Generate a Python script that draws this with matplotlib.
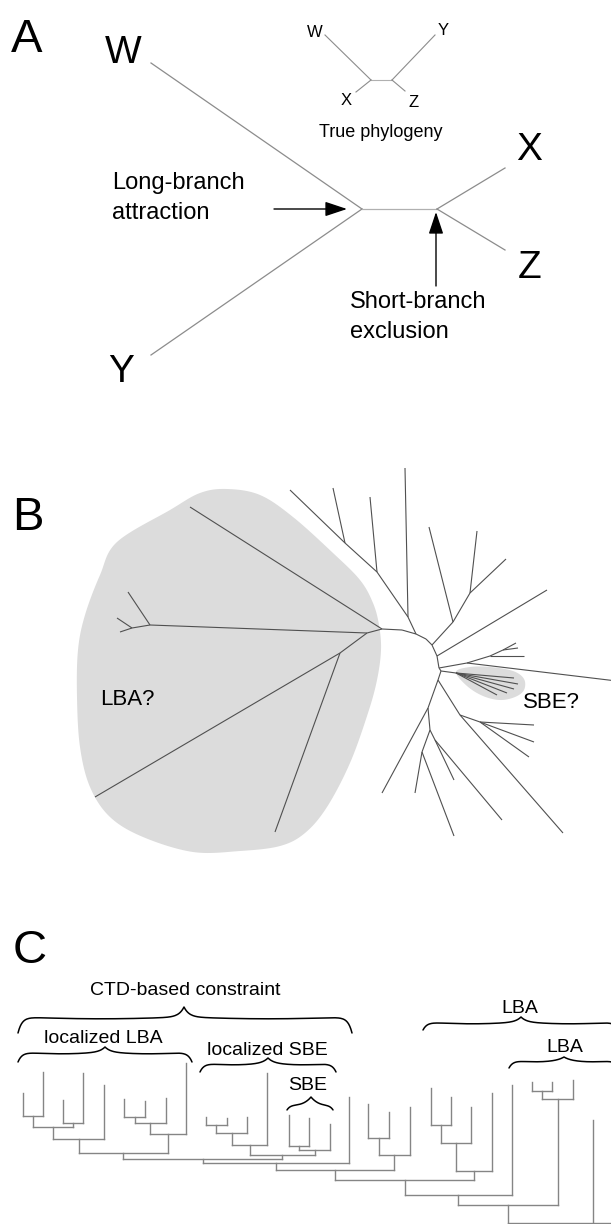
import numpy as np
import matplotlib.pyplot as plt
from matplotlib.collections import LineCollection
from matplotlib.patches import Polygon

plt.rcParams['font.family'] = ['Liberation Sans', 'DejaVu Sans']

# ---------------- panel A: four-taxon tree ----------------
a_nodes = {'W': (151, 63), 'Y': (151, 355), 'u': (362, 209), 'v': (437, 209),
           'X': (505, 168), 'Z': (505, 250)}
a_edges = [('W', 'u'), ('Y', 'u'), ('u', 'v'), ('v', 'X'), ('v', 'Z')]
a_labels = {'W': (123, 63), 'Y': (121, 382), 'X': (529, 160), 'Z': (530, 278)}

# small inset with the true topology
t_nodes = {'W': (325, 35), 'Y': (435, 35), 'p': (371, 80), 'q': (392, 80),
           'X': (356, 92), 'Z': (405, 91)}
t_edges = [('W', 'p'), ('p', 'q'), ('q', 'Y'), ('p', 'X'), ('q', 'Z')]
t_labels = {'W': (315, 37), 'Y': (443, 35), 'X': (346, 105), 'Z': (414, 107)}

# ---------------- panel B: unrooted tree ----------------
b_edges = [
    # long-branch cluster
    ((382, 629), (190, 507)), ((382, 629), (367, 633)),
    ((367, 633), (150, 625)), ((150, 625), (128, 592)), ((150, 625), (132, 628)),
    ((132, 628), (117, 618)), ((132, 628), (120, 632)),
    ((367, 633), (340, 653)), ((340, 653), (95, 797)), ((340, 653), (275, 832)),
    # backbone
    ((382, 629), (402, 630)), ((402, 630), (416, 634)), ((416, 634), (426, 639)),
    ((426, 639), (432, 645)), ((432, 645), (437, 656)),
    ((437, 656), (439, 668)), ((439, 668), (441, 671)), ((441, 671), (438, 680)),
    # upper clade
    ((416, 634), (408, 617)), ((408, 617), (405, 468)), ((408, 617), (377, 572)),
    ((377, 572), (370, 497)), ((377, 572), (345, 543)),
    ((345, 543), (290, 490)), ((345, 543), (333, 488)),
    # upper right clade
    ((432, 645), (453, 622)), ((453, 622), (429, 527)), ((453, 622), (470, 593)),
    ((470, 593), (477, 531)), ((470, 593), (506, 559)),
    ((437, 656), (547, 590)),
    # right clade
    ((439, 668), (467, 663)), ((467, 663), (625, 682)), ((467, 663), (490, 656)),
    ((490, 656), (503, 650)), ((503, 650), (516, 643)), ((503, 650), (518, 648)),
    ((490, 656), (524, 656)),
    # short-branch cluster
    ((441, 671), (456, 673)), ((456, 673), (514, 678)), ((456, 673), (518, 684)),
    ((456, 673), (514, 689)), ((456, 673), (507, 693)), ((456, 673), (497, 695)),
    # lower clades
    ((438, 680), (428, 708)), ((428, 708), (382, 793)), ((428, 708), (430, 730)),
    ((430, 730), (422, 752)), ((422, 752), (415, 793)), ((422, 752), (454, 836)),
    ((430, 730), (435, 740)), ((435, 740), (454, 780)), ((435, 740), (502, 820)),
    ((438, 680), (460, 715)), ((460, 715), (563, 833)), ((460, 715), (480, 722)),
    ((480, 722), (534, 725)), ((480, 722), (534, 742)), ((480, 722), (529, 757)),
]
lba_region = [(117, 542), (170, 510), (200, 493), (227, 489), (260, 495), (293, 517),
              (333, 553), (360, 580), (373, 603), (379, 625), (381, 650), (377, 680),
              (368, 713), (350, 763), (327, 807), (305, 833), (280, 846), (240, 851),
              (193, 852), (143, 837), (110, 817), (90, 787), (80, 747), (77, 697),
              (78, 650), (85, 615), (100, 575)]
sbe_region = [(456, 672), (470, 667), (490, 667), (513, 671), (524, 679), (524, 690),
              (515, 697), (500, 700), (483, 696), (467, 686)]

# ---------------- panel C: rooted cladogram ----------------
# leaf = (x, top), clade = (join_y, [children])
localized_lba = (1153, [
    (1139, [(1127, [(1116, [(23.3, 1093), (43.3, 1072)]),
                    (1123, [(63.3, 1100), (83.3, 1073)])]),
            (104.3, 1085)]),
    (1134, [(1123, [(1117, [(124.3, 1099), (145.0, 1101)]), (165.7, 1098)]),
            (186.0, 1063)]),
])
localized_sbe = (1155, [
    (1145, [(1133, [(1125, [(205.7, 1117), (226.7, 1118)]), (247.3, 1117)]),
            (267.3, 1073)]),
    (1150, [(1146, [(289.0, 1115), (309.0, 1118)]), (330.0, 1124)]),
])
clade_3 = (1155, [(1138, [(368.3, 1104), (389.0, 1112)]), (410.0, 1107)])
clade_4 = (1171, [(1143, [(1125, [(431.0, 1088), (451.0, 1097)]), (471.0, 1107)]),
                  (491.7, 1093)])
clade_lba = (1099, [(1091, [(532.3, 1082), (552.3, 1082)]), (573.3, 1080)])
c_tree = (1223, [
    (1205, [
        (1195, [
            (1180, [
                (1170, [(1163, [(1159, [localized_lba, localized_sbe]), (349.3, 1097)]),
                        clade_3]),
                clade_4]),
            (512.3, 1085)]),
        clade_lba]),
    (593.3, 1120),
    (680.0, 1100),
])

# braces: text, text x, text baseline, brace x0, x1, tip x, tip y, mid y, end y
c_braces = [
    ('CTD-based constraint', 185, 995, 18, 352, 184, 1007, 1017, 1033),
    ('localized LBA', 103, 1043, 18, 192, 105, 1047, 1052, 1062),
    ('localized SBE', 267, 1055, 200, 336, 268, 1058, 1063, 1072),
    ('SBE', 308, 1090, 287, 333, 311, 1097, 1103, 1110),
    ('LBA', 520, 1013, 423, 619, 521, 1017, 1022, 1030),
    ('LBA', 565, 1052, 509, 619, 564, 1057, 1060, 1068),
]


def smooth_closed(pts, n=20):
    pts = np.asarray(pts, float)
    m = len(pts)
    t = np.linspace(0, 1, n, endpoint=False)[:, None]
    out = []
    for i in range(m):
        p0, p1, p2, p3 = pts[i - 1], pts[i], pts[(i + 1) % m], pts[(i + 2) % m]
        out.append(0.5 * (2 * p1 + (-p0 + p2) * t + (2 * p0 - 5 * p1 + 4 * p2 - p3) * t ** 2
                          + (-p0 + 3 * p1 - 3 * p2 + p3) * t ** 3))
    return np.vstack(out)


def half_brace(x, x_end, x_tip, y_tip, y_mid, y_end):
    d_end = np.abs(x - x_end)
    d_tip = np.abs(x_tip - x)
    span = abs(x_tip - x_end)
    sag = 1.8 * np.sin(np.pi * d_end / span)
    return (y_mid + sag + (y_end - y_mid) * np.exp(-d_end / 4)
            + (y_tip - y_mid - sag) * np.exp(-d_tip / 5))


def brace(ax, x0, x1, xt, y_tip, y_mid, y_end):
    xl = np.linspace(x0, xt, 150)
    xr = np.linspace(xt, x1, 150)
    yl = half_brace(xl, x0, xt, y_tip, y_mid, y_end)
    yr = half_brace(xr, x1, xt, y_tip, y_mid, y_end)
    ax.plot(np.r_[xl, xr], np.r_[yl, yr], color='black', lw=1.1, solid_capstyle='round')


def draw_clade(ax, node):
    if not isinstance(node[1], list):
        return node
    y, kids = node
    xs = []
    for k in kids:
        kx, ky = draw_clade(ax, k)
        ax.plot([kx, kx], [ky, y], color='#858585', lw=1.0)
        xs.append(kx)
    ax.plot([min(xs), max(xs)], [y, y], color='#858585', lw=1.0)
    return ((xs[0] + xs[1]) / 2, y)


fig = plt.figure(figsize=(6.11, 12.24), dpi=100)
ax = fig.add_axes([0, 0, 1, 1])
ax.set_xlim(0, 611)
ax.set_ylim(1224, 0)
ax.axis('off')

# panel A
for a, b in a_edges:
    col = '#b0b0b0' if (a, b) == ('u', 'v') else '#8c8c8c'
    ax.plot(*zip(a_nodes[a], a_nodes[b]), color=col, lw=0.9)
for k, (x, y) in a_labels.items():
    ax.text(x, y, k, fontsize=28, ha='center', va='baseline')
for a, b in t_edges:
    col = '#b0b0b0' if (a, b) == ('p', 'q') else '#8c8c8c'
    ax.plot(*zip(t_nodes[a], t_nodes[b]), color=col, lw=0.8)
for k, (x, y) in t_labels.items():
    ax.text(x, y, k, fontsize=12, ha='center', va='baseline')
ax.text(381, 137, 'True phylogeny', fontsize=13, ha='center', va='baseline')
ax.text(112, 189, 'Long-branch', fontsize=17, va='baseline')
ax.text(112, 219, 'attraction', fontsize=17, va='baseline')
ax.text(350, 308, 'Short-branch', fontsize=17, va='baseline')
ax.text(350, 338, 'exclusion', fontsize=17, va='baseline')
ax.annotate('', xy=(347, 209), xytext=(274, 209),
            arrowprops=dict(arrowstyle='-|>,head_length=0.9,head_width=0.3',
                            mutation_scale=15, color='black', lw=1.0,
                            shrinkA=0, shrinkB=0))
ax.annotate('', xy=(436, 212), xytext=(436, 286),
            arrowprops=dict(arrowstyle='-|>,head_length=0.9,head_width=0.3',
                            mutation_scale=15, color='black', lw=1.0,
                            shrinkA=0, shrinkB=0))

# panel B
ax.add_patch(Polygon(smooth_closed(lba_region), closed=True, fc='#dcdcdc', ec='none'))
ax.add_patch(Polygon(smooth_closed(sbe_region), closed=True, fc='#dcdcdc', ec='none'))
ax.add_collection(LineCollection(b_edges, colors='#505050', linewidths=0.8))
ax.text(127, 705, 'LBA?', fontsize=16, ha='center', va='baseline')
ax.text(551, 708, 'SBE?', fontsize=16, ha='center', va='baseline')

# panel C
draw_clade(ax, c_tree)
for label, tx, ty, x0, x1, xt, yt, ym, ye in c_braces:
    brace(ax, x0, x1, xt, yt, ym, ye)
    ax.text(tx, ty, label, fontsize=14, ha='center', va='baseline')

# panel letters
ax.text(27, 52, 'A', fontsize=34, ha='center', va='baseline')
ax.text(28, 530, 'B', fontsize=34, ha='center', va='baseline')
ax.text(30, 963, 'C', fontsize=34, ha='center', va='baseline')

fig.savefig('out.png', dpi=100)
